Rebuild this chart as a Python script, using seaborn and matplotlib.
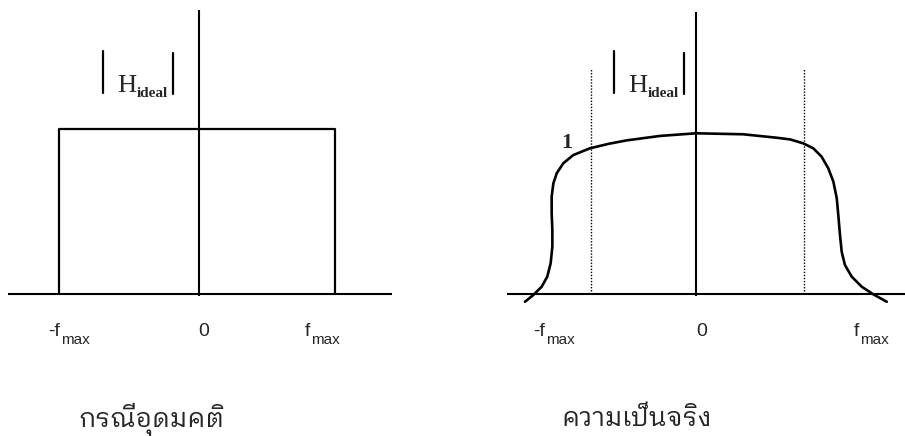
import matplotlib
matplotlib.use("Agg")
import matplotlib.pyplot as plt
import seaborn as sns
import numpy as np
import pandas as pd
from matplotlib import font_manager as fm
from matplotlib.lines import Line2D

# ---------------- data ----------------
# ideal filter (normalised frequency f/f_max, magnitude)
ideal_f = [-1.03, -1.03, 1.0, 1.0]
ideal_m = [0.0, 1.0, 1.0, 0.0]

real_f = [-1.006, -0.957, -0.908, -0.875, -0.855, -0.845, -0.845, -0.849, -0.849,
          -0.839, -0.819, -0.781, -0.722, -0.624, -0.510, -0.408, -0.212, 0.0,
          0.278, 0.475, 0.553, 0.631, 0.690, 0.739, 0.778, 0.808, 0.828, 0.837,
          0.847, 0.857, 0.876, 0.916, 0.975, 1.043, 1.122]
real_m = [-0.047, -0.006, 0.044, 0.105, 0.186, 0.287, 0.388, 0.489, 0.590,
          0.671, 0.732, 0.792, 0.842, 0.883, 0.911, 0.931, 0.958, 0.974,
          0.968, 0.947, 0.937, 0.913, 0.883, 0.832, 0.762, 0.681, 0.580, 0.479,
          0.358, 0.256, 0.176, 0.105, 0.044, -0.002, -0.047]
dotted_f = [-0.62, 0.637]

tick_main = ["-f", "0", "f"]
tick_sub = "max"
titles = ["กรณีอุดมคติ", "ความเป็นจริง"]
mag_label = ("H", "ideal")
one_label = "1"


def find_thai_font():
    try:
        from fontTools.ttLib import TTFont
    except Exception:
        return None
    found = []
    for f in fm.fontManager.ttflist:
        try:
            tt = TTFont(f.fname, fontNumber=0, lazy=True)
            cmap = tt.getBestCmap()
            if cmap and 0x0E01 in cmap and 0x0E13 in cmap and 0x0E35 in cmap:
                found.append(f.name)
        except Exception:
            pass
    if not found:
        return None
    for n in found:
        if "Thai" in n and "Looped" in n:
            return n
    for n in found:
        if "Thai" in n:
            return n
    return found[0]


sns.set_theme(style="white")
plt.rcParams["font.family"] = ["Liberation Sans", "DejaVu Sans"]
thai = find_thai_font()
thai_family = [thai, "DejaVu Sans"] if thai else ["DejaVu Sans"]

W, H = 905, 436
fig = plt.figure(figsize=(W / 100, H / 100), dpi=100)
fig.patch.set_facecolor("white")
ax1 = fig.add_axes([0, 0, 0.5, 1])
ax2 = fig.add_axes([0.5, 0, 0.5, 1])

y0px = 294.0
yunit = 165.0
ylim = (-(H - y0px) / yunit, y0px / yunit)
xlim1 = (-199 / 136, (452.5 - 199) / 136)
xlim2 = (-243.5 / 170, (452.5 - 243.5) / 170)

LW_AX = 1.5
# left: axes lines + ideal response
ax1.plot([-1.404, 1.419], [0, 0], color="black", lw=LW_AX, solid_capstyle="butt")
ax1.plot([0, 0], [-0.01, 1.72], color="black", lw=LW_AX, solid_capstyle="butt")
df_ideal = pd.DataFrame({"f": ideal_f, "m": ideal_m})
sns.lineplot(data=df_ideal, x="f", y="m", ax=ax1, sort=False, estimator=None,
             color="black", lw=1.6)

# right: axes lines + real response
ax2.plot([-1.114, 1.229], [0, 0], color="black", lw=LW_AX, solid_capstyle="butt")
ax2.plot([0, 0], [-0.01, 1.71], color="black", lw=LW_AX, solid_capstyle="butt")
ax2.vlines(dotted_f, 0, 1.368, color="black", lw=1.0, linestyles=(0, (1, 1.2)))
df_real = pd.DataFrame({"f": real_f, "m": real_m})
sns.lineplot(data=df_real, x="f", y="m", ax=ax2, sort=False, estimator=None,
             color="black", lw=1.9)

for ax, xl in ((ax1, xlim1), (ax2, xlim2)):
    ax.set_xlim(*xl)
    ax.set_ylim(*ylim)
    ax.set_xlabel("")
    ax.set_ylabel("")
    ax.axis("off")


def ftext(px, py, s, **kw):
    fig.text(px / W, 1 - py / H, s, **kw)


def fline(x0, y0, x1, y1, lw=1.6):
    fig.add_artist(Line2D([x0 / W, x1 / W], [1 - y0 / H, 1 - y1 / H],
                          color="black", lw=lw, transform=fig.transFigure))


# tick labels
for (xl, xls, x0, xr, xrs) in [(48, 61, 204, 305, 311), (533, 546, 702, 854, 860)]:
    ftext(xl, 336, tick_main[0], fontsize=14, ha="left", va="baseline")
    ftext(xls, 343.5, tick_sub, fontsize=11, ha="left", va="baseline")
    ftext(x0, 336, tick_main[1], fontsize=14, ha="center", va="baseline")
    ftext(xr, 336, tick_main[2], fontsize=14, ha="left", va="baseline")
    ftext(xrs, 343.5, tick_sub, fontsize=11, ha="left", va="baseline")

# |H_ideal| labels
for (bl, br) in [(103, 173), (614, 684)]:
    fline(bl, 51, bl, 93)
    fline(br, 53, br, 94)
    ftext(bl + 14, 92, mag_label[0], fontsize=19, family="Liberation Serif",
          ha="left", va="baseline")
    ftext(bl + 34, 97, mag_label[1], fontsize=11, family="Liberation Serif",
          fontweight="bold", ha="left", va="baseline")

# "1" label
ftext(567, 148, one_label, fontsize=16, family="Liberation Serif",
      fontweight="bold", ha="center", va="baseline")

# Thai titles
ftext(151, 426, titles[0], fontsize=18.5, family=thai_family, ha="center", va="baseline")
ftext(637, 426, titles[1], fontsize=18.5, family=thai_family, ha="center", va="baseline")

fig.savefig("out.png", dpi=100, facecolor="white")
